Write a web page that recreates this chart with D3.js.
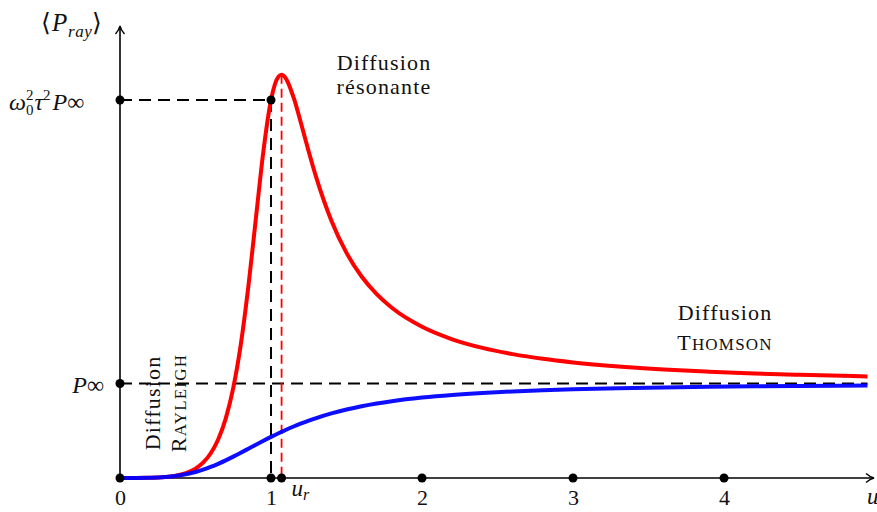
<!DOCTYPE html>
<html><head><meta charset="utf-8">
<script src="https://cdn.jsdelivr.net/npm/d3@7"></script>
</head>
<body style="margin:0">
<svg id="chart" width="877" height="512" style="display:block;background:#fff"></svg>
<script>
// ---- data ----
const uVals = [0,0.1,0.2,0.3,0.4,0.5,0.55,0.6,0.65,0.7,0.75,0.8,0.85,0.9,0.95,1.0,1.05,1.07,1.1,1.15,1.2,1.25,1.3,1.4,1.5,1.6,1.7,1.8,2.0,2.2,2.4,2.6,2.8,3.0,3.3,3.6,3.9,4.2,4.5,4.95];
const resonantVals = [0,0.0001,0.0017,0.0095,0.0343,0.100,0.163,0.259,0.407,0.628,0.953,1.414,2.026,2.750,3.464,4.000,4.248,4.267,4.224,4.024,3.746,3.453,3.178,2.722,2.382,2.132,1.945,1.801,1.600,1.468,1.377,1.311,1.261,1.223,1.180,1.148,1.125,1.106,1.092,1.075];
const rayleighVals = [0,0.0001,0.0019,0.0095,0.0283,0.0633,0.0878,0.1168,0.1500,0.1868,0.2264,0.2678,0.3101,0.3525,0.3943,0.4348,0.4736,0.4885,0.5103,0.5448,0.5770,0.6069,0.6345,0.6834,0.7245,0.7591,0.7882,0.8127,0.8511,0.8792,0.9002,0.9162,0.9287,0.9386,0.9500,0.9585,0.9649,0.9700,0.9740,0.9787];
const xTicks = [0,1,2,3,4];
const pInf = 1;          // P_inf level
const pPeakLevel = 4;    // omega0^2 tau^2 P_inf level
const uR = 1.07;         // resonance position

const SERIF = '"Liberation Serif"';

// ---- scales ----
const svg = d3.select("#chart").style("font-family", SERIF);
const x = d3.scaleLinear().domain([0, 4.95]).range([120, 867.5]);
const y = d3.scaleLinear().domain([0, 4]).range([478, 100]);

// ---- dashed guides ----
svg.append("line").attr("x1", x(0)).attr("x2", x(1)).attr("y1", y(pPeakLevel)).attr("y2", y(pPeakLevel))
  .attr("stroke", "#000").attr("stroke-width", 2).attr("stroke-dasharray", "12,7");
svg.append("line").attr("x1", x(1)).attr("x2", x(1)).attr("y1", y(pPeakLevel)).attr("y2", y(0))
  .attr("stroke", "#000").attr("stroke-width", 2).attr("stroke-dasharray", "12,7");
svg.append("line").attr("x1", x(0)).attr("x2", x(4.95)).attr("y1", y(pInf)).attr("y2", y(pInf))
  .attr("stroke", "#000").attr("stroke-width", 2).attr("stroke-dasharray", "12,7");
svg.append("line").attr("x1", x(uR)).attr("x2", x(uR)).attr("y1", y(4.267)).attr("y2", y(0))
  .attr("stroke", "#ff0000").attr("stroke-width", 1.8).attr("stroke-dasharray", "9,5");

// ---- axes ----
svg.append("line").attr("x1", x(0)).attr("x2", 873).attr("y1", y(0)).attr("y2", y(0))
  .attr("stroke", "#000").attr("stroke-width", 1.6);
svg.append("line").attr("x1", x(0)).attr("x2", x(0)).attr("y1", y(0)).attr("y2", 27)
  .attr("stroke", "#000").attr("stroke-width", 1.6);
svg.append("path").attr("d", `M866,${y(0)-4.5} Q870,${y(0)-1} 874,${y(0)} Q870,${y(0)+1} 866,${y(0)+4.5}`)
  .attr("fill", "none").attr("stroke", "#000").attr("stroke-width", 1.4);
svg.append("path").attr("d", `M${x(0)-4.5},34 Q${x(0)-1},30 ${x(0)},26 Q${x(0)+1},30 ${x(0)+4.5},34`)
  .attr("fill", "none").attr("stroke", "#000").attr("stroke-width", 1.4);

const xAxis = d3.axisBottom(x).tickValues(xTicks).tickSize(0).tickPadding(11).tickFormat(d3.format("d"));
const gx = svg.append("g").attr("transform", `translate(0,${y(0)})`).call(xAxis);
gx.attr("font-family", null).attr("font-size", null);
gx.select(".domain").remove();
gx.selectAll("text").style("font-size", "22px").style("font-family", SERIF).attr("fill", "#111");

// ---- curves ----
const pts = (vals) => uVals.map((u, i) => [u, vals[i]]);
const line = d3.line().x(d => x(d[0])).y(d => y(d[1])).curve(d3.curveMonotoneX);
svg.append("path").attr("d", line(pts(resonantVals))).attr("fill", "none")
  .attr("stroke", "#ff0000").attr("stroke-width", 4).attr("stroke-linejoin", "round");
svg.append("path").attr("d", line(pts(rayleighVals))).attr("fill", "none")
  .attr("stroke", "#0000ff").attr("stroke-width", 4).attr("stroke-linejoin", "round").attr("opacity", 0.95);

// ---- dots ----
const dots = xTicks.map(t => [t, 0]).concat([[uR, 0], [0, pInf], [0, pPeakLevel], [1, pPeakLevel]]);
svg.selectAll("circle.dot").data(dots).join("circle").attr("class", "dot")
  .attr("cx", d => x(d[0])).attr("cy", d => y(d[1])).attr("r", 4.5).attr("fill", "#000");

// helper
const txt = (sel, size) => sel.style("font-family", SERIF).style("font-size", size + "px").attr("fill", "#111");

// ---- labels ----
const ur = txt(svg.append("text"), 23).attr("x", x(uR) + 10).attr("y", 496);
ur.append("tspan").style("font-style", "italic").text("u");
ur.append("tspan").style("font-style", "italic").style("font-size", "16px").attr("dy", 4).text("r");
// x axis label (clipped at right edge as in the reference)
txt(svg.append("text"), 23).attr("x", 867).attr("y", 504).style("font-style", "italic").text("u");

// y axis label
const yl = txt(svg.append("text"), 25).attr("x", 103).attr("y", 31).attr("text-anchor", "end").attr("letter-spacing", 0.6);
yl.append("tspan").text("\u27E8");
yl.append("tspan").style("font-style", "italic").text("P");
yl.append("tspan").style("font-style", "italic").style("font-size", "17px").attr("dy", 6).text("ray");
yl.append("tspan").attr("dy", -6).text("\u27E9");

// omega0^2 tau^2 P_inf
const t1 = txt(svg.append("text"), 24).attr("x", 9).attr("y", y(pPeakLevel) + 10);
t1.append("tspan").style("font-style", "italic").text("ω");
t1.append("tspan").style("font-size", "15px").attr("dy", -10).text("2");
t1.append("tspan").style("font-size", "15px").attr("dx", -7.5).attr("dy", 15).text("0");
t1.append("tspan").style("font-style", "italic").attr("dx", 1).attr("dy", -5).text("τ");
t1.append("tspan").style("font-size", "15px").attr("dy", -10).text("2");
t1.append("tspan").style("font-style", "italic").attr("dx", 2).attr("dy", 10).text("P");
t1.append("tspan").text("∞");

// P_inf
const t2 = txt(svg.append("text"), 24).attr("x", 104).attr("y", y(pInf) + 9).attr("text-anchor", "end");
t2.append("tspan").style("font-style", "italic").text("P");
t2.append("tspan").text("∞");

// annotations
function block(parent, cx, y1, y2, first, capA, capRest) {
  txt(parent.append("text"), 22).attr("text-anchor", "middle").attr("letter-spacing", 1.2)
    .attr("x", cx).attr("y", y1).text(first);
  const b = txt(parent.append("text"), 22).attr("text-anchor", "middle").attr("letter-spacing", 1.2)
    .attr("x", cx).attr("y", y2);
  if (capA !== null) {
    b.append("tspan").text(capA);
    b.append("tspan").style("font-size", "17px").text(capRest);
  } else {
    b.text(capRest);
  }
}
block(svg, 384, 70, 94, "Diffusion", null, "résonante");
block(svg, 725, 320, 350, "Diffusion", "T", "HOMSON");
// rotated Rayleigh
const gr = svg.append("g").attr("transform", "translate(160,403) rotate(-90)");
block(gr, 0, 0, 26, "Diffusion", "R", "AYLEIGH");
</script>
</body></html>
